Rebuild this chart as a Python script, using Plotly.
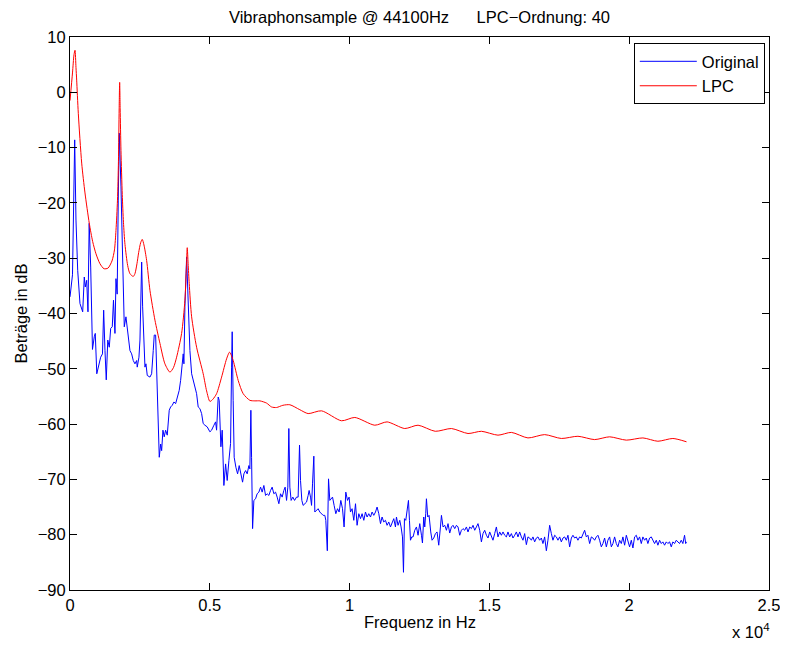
import plotly.graph_objects as go

# ---- data ----
blue_hz = [
    0, 89, 168, 214, 275, 357, 454, 511, 547, 597,
    643, 686, 740, 804, 868, 904, 958, 1011, 1097, 1162,
    1204, 1251, 1297, 1351, 1405, 1455, 1512, 1555, 1608, 1644,
    1687, 1726, 1762, 1823, 1883, 1941, 2001, 2084, 2144, 2205,
    2262, 2323, 2384, 2405, 2466, 2502, 2538, 2563, 2598, 2656,
    2681, 2716, 2763, 2859, 2920, 2977, 3013, 3063, 3099, 3156,
    3192, 3242, 3278, 3324, 3370, 3420, 3478, 3549, 3599, 3656,
    3717, 3778, 3835, 3906, 3956, 4014, 4049, 4074, 4110, 4171,
    4228, 4289, 4350, 4407, 4468, 4528, 4585, 4646, 4707, 4764,
    4825, 4907, 5004, 5064, 5147, 5207, 5243, 5279, 5300, 5336,
    5397, 5443, 5504, 5565, 5622, 5683, 5743, 5779, 5801, 5836,
    5872, 5933, 5994, 6051, 6112, 6172, 6219, 6280, 6337, 6397,
    6433, 6469, 6494, 6530, 6576, 6637, 6694, 6755, 6816, 6873,
    6934, 6994, 7052, 7112, 7173, 7230, 7291, 7352, 7409, 7470,
    7530, 7588, 7648, 7695, 7745, 7791, 7827, 7863, 7909, 7970,
    8031, 8102, 8159, 8209, 8245, 8292, 8338, 8399, 8460, 8517,
    8553, 8603, 8639, 8674, 8721, 8756, 8817, 8874, 8935, 8996,
    9053, 9114, 9149, 9203, 9246, 9292, 9353, 9389, 9446, 9507,
    9568, 9625, 9686, 9746, 9803, 9864, 9925, 9982, 10032, 10089,
    10150, 10211, 10268, 10329, 10390, 10447, 10508, 10568, 10626, 10686,
    10747, 10804, 10865, 10926, 10983, 11044, 11105, 11162, 11222, 11283,
    11340, 11401, 11462, 11519, 11580, 11640, 11676, 11733, 11794, 11841,
    11891, 11927, 11962, 12009, 12055, 12105, 12141, 12177, 12223, 12270,
    12330, 12391, 12448, 12509, 12570, 12606, 12652, 12688, 12723, 12748,
    12795, 12842, 12902, 12949, 13010, 13070, 13128, 13188, 13249, 13285,
    13342, 13403, 13463, 13520, 13581, 13642, 13699, 13760, 13821, 13878,
    13939, 13999, 14057, 14117, 14178, 14235, 14296, 14357, 14414, 14475,
    14535, 14592, 14653, 14714, 14771, 14832, 14893, 14950, 15011, 15071,
    15128, 15189, 15250, 15307, 15368, 15429, 15486, 15547, 15607, 15664,
    15725, 15786, 15843, 15904, 15965, 16022, 16083, 16143, 16201, 16261,
    16322, 16379, 16440, 16501, 16558, 16619, 16680, 16737, 16797, 16858,
    16915, 16976, 17037, 17094, 17155, 17216, 17273, 17334, 17394, 17452,
    17513, 17573, 17631, 17691, 17752, 17809, 17870, 17931, 17988, 18049,
    18109, 18167, 18227, 18288, 18345, 18406, 18467, 18524, 18585, 18646,
    18703, 18764, 18824, 18882, 18942, 19003, 19060, 19121, 19182, 19239,
    19300, 19361, 19418, 19478, 19539, 19596, 19657, 19718, 19775, 19836,
    19897, 19954, 20014, 20075, 20133, 20193, 20254, 20311, 20372, 20433,
    20490, 20551, 20611, 20668, 20729, 20790, 20847, 20908, 20969, 21026,
    21087, 21147, 21205, 21265, 21326, 21383, 21444, 21505, 21562, 21623,
    21684, 21741, 21801, 21862, 21919, 21980, 22020, 22050,
]

blue_db = [
    -37.0, -33.0, -8.6, -23.1, -32.2, -38.2, -39.7, -33.4, -35.2, -34.0,
    -39.7, -23.7, -31.6, -46.5, -44.2, -43.6, -50.9, -49.7, -47.9, -47.3,
    -39.4, -46.7, -52.0, -44.8, -46.1, -42.7, -42.4, -37.6, -43.6, -33.7,
    -36.5, -19.5, -7.4, -17.1, -32.2, -42.4, -40.6, -44.8, -46.7, -47.3,
    -48.5, -49.1, -48.5, -49.7, -47.9, -44.8, -35.8, -30.7, -38.8, -46.7,
    -49.7, -49.1, -51.2, -51.5, -50.9, -46.7, -43.9, -43.9, -50.9, -59.9,
    -66.0, -63.6, -64.8, -61.1, -62.3, -61.1, -62.0, -57.5, -56.9, -56.6,
    -56.0, -56.3, -55.1, -53.9, -52.1, -48.5, -47.3, -49.1, -38.8, -29.8,
    -38.8, -46.7, -50.9, -52.1, -53.3, -54.5, -56.9, -57.2, -58.1, -59.9,
    -60.2, -60.5, -61.4, -61.1, -60.2, -59.6, -61.1, -56.9, -55.1, -55.7,
    -64.1, -61.1, -71.1, -67.2, -70.2, -66.6, -63.5, -49.7, -43.3, -55.7,
    -66.0, -67.8, -69.0, -67.5, -69.0, -70.5, -69.0, -68.4, -69.0, -67.5,
    -68.1, -57.5, -66.0, -78.9, -73.8, -73.5, -72.6, -72.3, -71.4, -72.3,
    -71.1, -72.9, -72.6, -72.9, -72.0, -71.4, -72.6, -72.3, -73.2, -74.4,
    -72.6, -73.2, -72.0, -71.4, -73.8, -71.4, -60.8, -71.4, -73.8, -73.2,
    -73.8, -73.2, -73.2, -63.8, -70.2, -73.8, -74.7, -74.4, -74.1, -72.9,
    -72.0, -73.2, -74.7, -70.8, -65.8, -75.9, -75.6, -75.3, -75.9, -76.2,
    -76.5, -76.5, -77.4, -82.9, -69.9, -73.8, -73.5, -73.2, -74.7, -76.2,
    -75.3, -75.9, -73.8, -75.3, -78.6, -72.3, -73.8, -73.2, -75.9, -75.3,
    -77.4, -74.4, -78.3, -76.2, -77.1, -76.2, -77.4, -75.9, -76.8, -76.2,
    -76.8, -75.9, -76.5, -75.9, -75.0, -76.2, -78.0, -76.8, -77.7, -77.4,
    -78.3, -77.7, -78.6, -78.0, -77.1, -78.6, -76.8, -78.3, -77.4, -78.6,
    -80.4, -86.8, -77.1, -77.4, -75.6, -73.8, -77.4, -81.0, -80.4, -80.4,
    -79.2, -78.6, -80.1, -78.0, -80.1, -81.5, -76.8, -78.6, -76.2, -73.5,
    -76.8, -76.5, -79.5, -81.0, -80.6, -79.8, -79.5, -81.9, -78.6, -76.5,
    -78.6, -78.3, -79.2, -78.0, -79.7, -78.6, -78.3, -78.9, -78.3, -78.6,
    -80.1, -79.2, -78.9, -79.2, -78.6, -79.5, -78.6, -78.9, -78.3, -79.2,
    -78.6, -78.0, -79.2, -81.3, -79.8, -79.2, -80.1, -80.6, -79.5, -80.4,
    -81.0, -79.8, -78.6, -80.4, -79.5, -80.1, -79.5, -80.1, -80.4, -79.5,
    -80.4, -79.8, -80.6, -80.1, -79.5, -80.4, -79.5, -80.4, -81.0, -79.8,
    -81.8, -80.4, -80.6, -81.0, -80.4, -81.3, -80.6, -80.4, -81.0, -80.6,
    -81.6, -80.4, -82.9, -81.0, -78.3, -79.8, -81.0, -80.1, -80.4, -81.0,
    -80.4, -81.3, -80.6, -80.4, -81.0, -80.1, -82.2, -80.6, -80.1, -80.6,
    -80.4, -81.0, -80.4, -80.6, -79.8, -79.2, -80.4, -80.1, -81.6, -80.4,
    -80.6, -81.0, -80.4, -80.1, -81.0, -82.2, -81.6, -80.6, -82.2, -81.0,
    -80.4, -82.2, -81.6, -80.4, -81.6, -82.2, -81.0, -81.6, -80.4, -81.9,
    -80.1, -81.3, -82.2, -81.0, -82.4, -80.4, -80.1, -81.0, -80.4, -81.6,
    -80.4, -81.0, -80.6, -81.6, -80.6, -80.4, -81.0, -81.6, -81.0, -81.9,
    -81.0, -81.6, -81.3, -81.9, -81.3, -81.6, -81.3, -82.2, -81.3, -81.6,
    -81.0, -81.3, -81.6, -81.0, -81.6, -80.1, -81.6, -81.3,
]

lpc_hz = [
    0, 89, 143, 179, 214, 239, 297, 418, 536, 690,
    811, 929, 1072, 1215, 1358, 1501, 1590, 1644, 1698, 1733,
    1758, 1776, 1794, 1823, 1869, 1912, 1966, 2062, 2144, 2262,
    2323, 2395, 2455, 2527, 2584, 2645, 2741, 2859, 3038, 3217,
    3395, 3574, 3699, 3813, 3992, 4110, 4164, 4193, 4225, 4264,
    4350, 4528, 4764, 4886, 5004, 5111, 5243, 5422, 5600, 5707,
    5836, 6015, 6194, 6433, 6612, 6791, 7030, 7209, 7387, 7613,
    7863, 8220, 8517, 8996, 9711, 10186, 10901, 11340, 11973, 12448,
    13063, 13642, 14235, 14714, 15307, 15786, 16379, 16976, 17573, 18167,
    18764, 19300, 19897, 20490, 21026, 21562, 22050,
]

lpc_db = [
    -1.5, 3.5, 6.8, 7.6, 4.5, 2.2, -3.8, -12.8, -18.2, -23.7,
    -27.0, -29.2, -31.0, -31.9, -31.8, -30.5, -28.5, -25.0, -19.5, -12.5,
    -3.0, 1.8, -3.0, -10.5, -18.5, -23.5, -27.5, -31.3, -32.8, -33.3,
    -32.8, -31.0, -29.0, -27.2, -26.6, -27.6, -30.4, -35.8, -41.2, -45.4,
    -49.1, -50.6, -49.8, -47.9, -43.6, -37.6, -31.5, -28.1, -31.0, -34.6,
    -40.6, -46.1, -50.9, -54.0, -55.9, -55.5, -54.5, -51.5, -48.2, -47.0,
    -48.5, -52.1, -54.5, -55.7, -55.8, -55.8, -56.2, -56.9, -57.0, -56.6,
    -56.5, -57.4, -58.1, -57.6, -59.4, -58.8, -60.2, -59.6, -60.8, -60.2,
    -61.3, -60.8, -61.7, -61.3, -62.0, -61.5, -62.5, -61.9, -62.6, -62.2,
    -62.8, -62.3, -62.9, -62.5, -63.1, -62.6, -63.2,
]

x_tick_vals = [0, 5000, 10000, 15000, 20000, 25000]
x_tick_text = ["0", "0.5", "1", "1.5", "2", "2.5"]
y_tick_vals = [10, 0, -10, -20, -30, -40, -50, -60, -70, -80, -90]

FONT = "Liberation Sans, Arial, Helvetica, sans-serif"
FS = 16.5

fig = go.Figure()
fig.add_trace(go.Scatter(
    x=blue_hz, y=blue_db, mode="lines", name="Original",
    line=dict(color="#0000ff", width=1),
))
fig.add_trace(go.Scatter(
    x=lpc_hz, y=lpc_db, mode="lines", name="LPC",
    line=dict(color="#ff0000", width=1, shape="spline", smoothing=0.7),
))

axis_common = dict(
    showline=True, linecolor="black", linewidth=1, mirror="allticks",
    ticks="inside", ticklen=7, tickcolor="black", tickwidth=1,
    showgrid=False, zeroline=False,
    tickfont=dict(family=FONT, size=FS, color="black"),
)

# page has an 8px body margin: figure is placed at (8, 8)
fig.update_layout(
    width=780, height=639,
    template="none",
    paper_bgcolor="white", plot_bgcolor="white",
    margin=dict(l=62, r=19, t=29, b=57),
    font=dict(family=FONT, size=FS, color="black"),
    title=dict(
        text="Vibraphonsample @ 44100Hz" + "\u00a0" * 6 + "LPC\u2212Ordnung: 40",
        x=0.5, xref="paper", xanchor="center",
        y=1 - 9 / 639, yref="container", yanchor="middle",
        font=dict(family=FONT, size=FS, color="black"),
    ),
    xaxis=dict(range=[0, 25000], tickvals=x_tick_vals, ticktext=x_tick_text, **axis_common),
    yaxis=dict(range=[-90, 10], tickvals=y_tick_vals, **axis_common),
    showlegend=True,
    legend=dict(
        x=0.994, xanchor="right", y=0.989, yanchor="top",
        bgcolor="white", bordercolor="black", borderwidth=1,
        font=dict(family=FONT, size=FS, color="black"),
        tracegroupgap=0, itemwidth=57,
    ),
    annotations=[
        dict(text="Frequenz in Hz", xref="paper", yref="paper",
             x=0.5, y=-(622 - 590) / 553, xanchor="center", yanchor="middle",
             showarrow=False, font=dict(family=FONT, size=FS)),
        dict(text="Beträge in dB", xref="paper", yref="paper",
             x=-(70 - 20) / 699, y=0.5, xanchor="center", yanchor="middle",
             textangle=-90, showarrow=False, font=dict(family=FONT, size=FS)),
        dict(text="x 10<sup>4</sup>", xref="paper", yref="paper",
             x=(751 - 70) / 699, y=-(631 - 590) / 553, xanchor="center", yanchor="middle",
             showarrow=False, font=dict(family=FONT, size=FS)),
    ],
)

fig.write_html("out.html")
